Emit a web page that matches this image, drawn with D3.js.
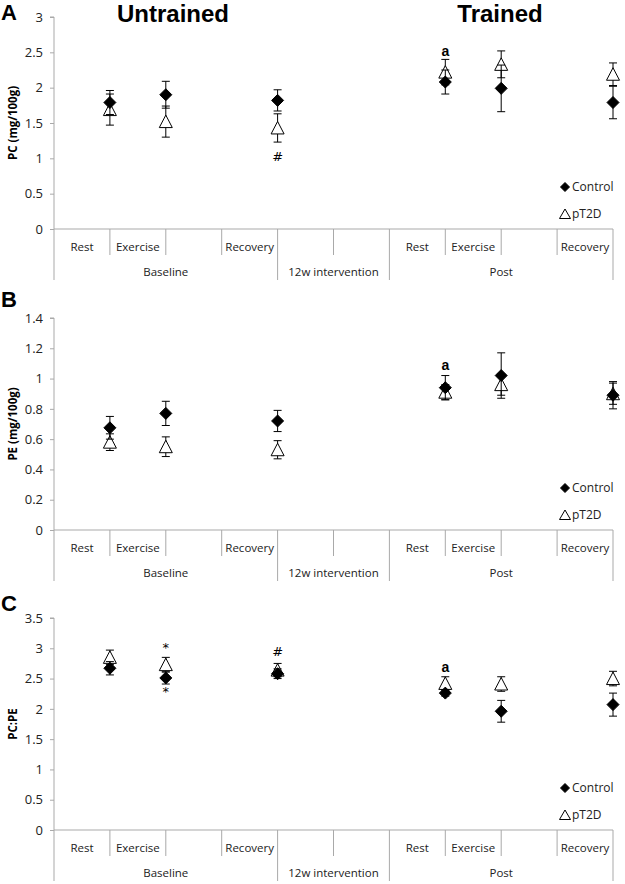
<!DOCTYPE html>
<html>
<head>
<meta charset="utf-8">
<script src="https://cdn.jsdelivr.net/npm/d3@7"></script>
<style>
  body { margin: 0; background: #fff; }
  svg { display: block; }
  text { font-family: "Open Sans", "Liberation Sans", sans-serif; }
</style>
</head>
<body>
<svg id="chart" width="625" height="884"></svg>
<script>
// categories along the x axis (blank slots are empty in the original)
const categories = ["Rest", "Exercise", "", "Recovery", "", "", "Rest", "Exercise", "", "Recovery"];
const groupLabels = ["Baseline", "12w intervention", "Post"];
const groupSpans = [4, 2, 4];

const seriesNames = ["Control", "pT2D"];

// Panel A - PC (mg/100g)
const pcControl = [1.79, 1.90, null, 1.82, null, null, 2.08, 1.99, null, 1.79];
const pcControlErr = [0.17, 0.19, null, 0.15, null, null, 0.17, 0.33, null, 0.23];
const pcT2D = [1.69, 1.52, null, 1.43, null, null, 2.22, 2.33, null, 2.19];
const pcT2DErr = [0.22, 0.22, null, 0.20, null, null, 0.18, 0.19, null, 0.16];
const pcTicks = [0, 0.5, 1, 1.5, 2, 2.5, 3];

// Panel B - PE (mg/100g)
const peControl = [0.675, 0.77, null, 0.72, null, null, 0.94, 1.02, null, 0.89];
const peControlErr = [0.075, 0.08, null, 0.07, null, null, 0.08, 0.15, null, 0.09];
const peT2D = [0.58, 0.55, null, 0.53, null, null, 0.91, 0.96, null, 0.90];
const peT2DErr = [0.055, 0.065, null, 0.06, null, null, 0.05, 0.07, null, 0.07];
const peTicks = [0, 0.2, 0.4, 0.6, 0.8, 1, 1.2, 1.4];

// Panel C - PC:PE
const ratioControl = [2.67, 2.51, null, 2.58, null, null, 2.26, 1.96, null, 2.07];
const ratioControlErr = [0.11, 0.10, null, 0.08, null, null, 0.05, 0.18, null, 0.19];
const ratioT2D = [2.85, 2.73, null, 2.64, null, null, 2.42, 2.41, null, 2.50];
const ratioT2DErr = [0.12, 0.12, null, 0.11, null, null, 0.11, 0.12, null, 0.12];
const ratioTicks = [0, 0.5, 1, 1.5, 2, 2.5, 3, 3.5];

// significance marks: [slot, value where the mark sits, text, bold]
const pcMarks = [[6, 2.52, "a", true], [3, 1.02, "#", false]];
const peMarks = [[6, 1.09, "a", true]];
const ratioMarks = [[1, 3.01, "*", false], [1, 2.28, "*", false], [3, 2.95, "#", false], [6, 2.69, "a", true]];

const panels = [
  { letter: "A", label: "PC (mg/100g)", max: 3, ticks: pcTicks, control: pcControl, controlErr: pcControlErr, t2d: pcT2D, t2dErr: pcT2DErr, marks: pcMarks },
  { letter: "B", label: "PE (mg/100g)", max: 1.4, ticks: peTicks, control: peControl, controlErr: peControlErr, t2d: peT2D, t2dErr: peT2DErr, marks: peMarks },
  { letter: "C", label: "PC:PE", max: 3.5, ticks: ratioTicks, control: ratioControl, controlErr: ratioControlErr, t2d: ratioT2D, t2dErr: ratioT2DErr, marks: ratioMarks }
];

const svg = d3.select("#chart");
const left = 54, right = 613, plotH = 212;
const panelTops = [17, 318, 618];
const axisGray = "#a9a9a9";

const x = d3.scaleBand().domain(d3.range(categories.length)).range([left, right]);
const px = i => x(i) + x.bandwidth(); // points sit on the right edge of their slot

const diamond = "M0,-6L6,0L0,6L-6,0Z";
const triangle = "M0,-6.5L6.5,6L-6.5,6Z";

// column titles
svg.append("text").attr("x", 173).attr("y", 22).attr("text-anchor", "middle")
  .style("font-family", "Liberation Sans, Arial, sans-serif")
  .attr("font-size", 24).attr("font-weight", "bold").text("Untrained");
svg.append("text").attr("x", 500).attr("y", 22).attr("text-anchor", "middle")
  .style("font-family", "Liberation Sans, Arial, sans-serif")
  .attr("font-size", 24).attr("font-weight", "bold").text("Trained");

panels.forEach((p, k) => {
  const top = panelTops[k];
  const g = svg.append("g").attr("transform", `translate(0,${top})`);
  const y = d3.scaleLinear().domain([0, p.max]).range([plotH, 0]);

  // panel letter
  g.append("text").attr("x", 1).attr("y", k === 0 ? 3 : (k === 1 ? -11 : -7))
    .style("font-family", "Liberation Sans, Arial, sans-serif")
    .attr("font-size", 22).attr("font-weight", "bold").text(p.letter);

  // y axis
  const yAxis = g.append("g").attr("transform", `translate(${left},0)`)
    .call(d3.axisLeft(y).tickValues(p.ticks).tickFormat(d3.format("~g")).tickSize(4).tickPadding(7));
  yAxis.select(".domain").attr("stroke", axisGray).attr("d", `M-4,0H0V${plotH + 51}`);
  yAxis.selectAll(".tick line").attr("stroke", axisGray);
  yAxis.selectAll(".tick text").attr("font-size", 13).attr("fill", "#222")
    .style("font-family", "Open Sans, sans-serif");

  // y label
  g.append("text").attr("transform", `translate(17,${plotH / 2}) rotate(-90)`)
    .attr("text-anchor", "middle").attr("font-size", 11.5).attr("font-weight", "bold")
    .text(p.label);

  // x axis baseline
  g.append("line").attr("x1", left).attr("x2", right).attr("y1", plotH).attr("y2", plotH)
    .attr("stroke", axisGray);

  // slot separators
  const groupEdges = [0];
  groupSpans.forEach(s => groupEdges.push(groupEdges[groupEdges.length - 1] + s));
  d3.range(1, categories.length + 1).forEach(i => {
    const xx = x(i - 1) + x.bandwidth();
    const full = groupEdges.includes(i);
    g.append("line").attr("x1", xx).attr("x2", xx).attr("y1", plotH).attr("y2", plotH + (full ? 51 : 26))
      .attr("stroke", axisGray);
  });

  // level 1 labels
  g.selectAll(".cat").data(categories).enter().append("text")
    .attr("x", (d, i) => x(i) + x.bandwidth() / 2).attr("y", plotH + 22)
    .attr("text-anchor", "middle").attr("font-size", 11.5).attr("fill", "#222").text(d => d);

  // level 2 labels
  g.selectAll(".grp").data(groupLabels).enter().append("text")
    .attr("x", (d, i) => {
      const a = x(groupEdges[i]);
      const b = x(groupEdges[i + 1] - 1) + x.bandwidth();
      return (a + b) / 2;
    })
    .attr("y", plotH + 47).attr("text-anchor", "middle").attr("font-size", 11.5).attr("fill", "#222")
    .text(d => d);

  // series: pT2D first, Control on top
  const series = [
    { vals: p.t2d, err: p.t2dErr, shape: triangle, fill: "#fff" },
    { vals: p.control, err: p.controlErr, shape: diamond, fill: "#000" }
  ];
  series.forEach(s => {
    const pts = s.vals.map((v, i) => ({ i, v, e: s.err[i] })).filter(d => d.v != null);
    const eb = g.append("g").attr("stroke", "#000").attr("stroke-width", 1);
    pts.forEach(d => {
      const cx = px(d.i);
      eb.append("line").attr("x1", cx).attr("x2", cx).attr("y1", y(d.v - d.e)).attr("y2", y(d.v + d.e));
      eb.append("line").attr("x1", cx - 4).attr("x2", cx + 4).attr("y1", y(d.v + d.e)).attr("y2", y(d.v + d.e));
      eb.append("line").attr("x1", cx - 4).attr("x2", cx + 4).attr("y1", y(d.v - d.e)).attr("y2", y(d.v - d.e));
    });
    g.selectAll(null).data(pts).enter().append("path")
      .attr("d", s.shape).attr("transform", d => `translate(${px(d.i)},${y(d.v)})`)
      .attr("fill", s.fill).attr("stroke", "#000").attr("stroke-width", 1);
  });

  // significance marks
  p.marks.forEach(m => {
    g.append("text").attr("x", px(m[0])).attr("y", y(m[1])).attr("dy", "0.35em")
      .attr("text-anchor", "middle")
      .style("font-family", m[3] ? "Liberation Sans, Arial, sans-serif" : "DejaVu Sans, sans-serif")
      .attr("font-size", m[3] ? 14 : 13).attr("font-weight", m[3] ? "bold" : "normal")
      .text(m[2]);
  });

  // legend
  const lg = g.append("g");
  seriesNames.forEach((name, j) => {
    const ly = 170 + j * 27;
    lg.append("path").attr("d", j === 0 ? "M0,-4.5L4.5,0L0,4.5L-4.5,0Z" : "M0,-5L5.5,4.5L-5.5,4.5Z")
      .attr("transform", `translate(565,${ly})`)
      .attr("fill", j === 0 ? "#000" : "#fff").attr("stroke", "#000").attr("stroke-width", 1);
    lg.append("text").attr("x", 572).attr("y", ly).attr("dy", "0.35em")
      .attr("font-size", 12).attr("fill", "#222").text(name);
  });
});
</script>
</body>
</html>
